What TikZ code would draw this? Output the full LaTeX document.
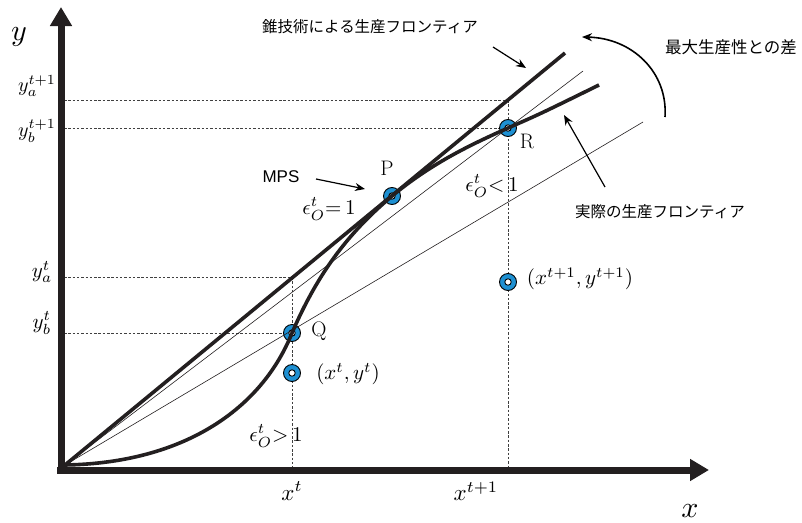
\documentclass[tikz,border=0pt]{standalone}
\usepackage{graphicx}
\usepackage{fontspec}
\newfontfamily\jp{Noto Sans CJK JP}
\newfontfamily\lsans{Liberation Sans}
\usetikzlibrary{arrows.meta}
\definecolor{ringblue}{HTML}{1E90D2}
\definecolor{axisblack}{HTML}{231F20}
\newcommand\mth[2]{\scalebox{#1}{$#2$}}
\tikzset{
  ring/.style={circle, draw=black, line width=0.9pt, fill=ringblue, minimum size=17pt, inner sep=0pt,
    path picture={\draw[fill=white, line width=0.9pt] (path picture bounding box.center) circle (3.2pt);}},
  axisline/.style={draw=axisblack, line width=7pt, -{Triangle[length=19pt,width=21pt]}},
  thickline/.style={line width=3.6pt, draw=axisblack},
  thinline/.style={line width=0.6pt, draw=axisblack},
  guide/.style={line width=0.6pt, draw=black!75, dash pattern=on 2.5pt off 1.8pt},
  lab/.style={inner sep=0pt},
  bigrm/.style={inner sep=0pt, font=\fontsize{21}{23}\selectfont},
  jplab/.style={inner sep=0pt, font=\jp\fontsize{15.5}{17}\selectfont},
  ptr/.style={line width=1.2pt, -{Stealth[length=10pt,width=8pt]}},
}
\begin{document}
\begin{tikzpicture}[x=1pt,y=-1pt]
\useasboundingbox (0,0) rectangle (802,522);
% coordinates
\coordinate (O) at (65,465);
\coordinate (Yb) at (61,473);
\coordinate (Yt) at (61,7);
\coordinate (Xl) at (57,470);
\coordinate (Xr) at (709,470);
\coordinate (Cend) at (565,53);
\coordinate (Rend) at (583,71);
\coordinate (Qend) at (643,122);
\coordinate (Fend) at (599,85);
% guide lines
\coordinate (ya1) at (64,100);
\coordinate (yb1) at (64,128);
\coordinate (ya0) at (64,277);
\coordinate (yb0) at (64,333);
\coordinate (v1t) at (508,100);
\coordinate (v1b) at (508,470);
\coordinate (v0t) at (292,277);
\coordinate (v0b) at (292,470);
\draw[guide] (ya1) -- (v1t);
\draw[guide] (yb1) -- (508,128);
\draw[guide] (ya0) -- (v0t);
\draw[guide] (yb0) -- (292,333);
\draw[guide] (v1t) -- (v1b);
\draw[guide] (v0t) -- (v0b);
% rings
\node[ring] (P) at (392,196) {};
\node[ring] (Q) at (292,333) {};
\node[ring] (R) at (508,128) {};
\node[ring] (A) at (292,373) {};
\node[ring] (B) at (508,282) {};
% lines from origin
\draw[thinline] (O) -- (Qend);
\draw[thinline] (O) -- (Rend);
\draw[thickline] (O) -- (Cend);
\draw[thickline] (O) .. controls (185,463) and (262,408) .. (Q.center)
  .. controls (320,268) and (352,230) .. (P.center)
  .. controls (432,163) and (470,145) .. (R.center)
  .. controls (540,114) .. (Fend);
% axes
\draw[axisline] (Yb) -- (Yt);
\draw[axisline] (Xl) -- (Xr);
% axis labels
\node[lab] (ylab) at (19,37) {\mth{3}{y}};
\node[lab] (xlab) at (690,511) {\mth{3}{x}};
\node[lab] (lya1) at (37,86) {\mth{2}{y_a^{t+1}}};
\node[lab] (lyb1) at (37,131) {\mth{2}{y_b^{t+1}}};
\node[lab] (lya0) at (42,272) {\mth{2.1}{y_a^{t}}};
\node[lab] (lyb0) at (42,323) {\mth{2.1}{y_b^{t}}};
\node[lab] (lx0) at (292,491) {\mth{2.3}{x^{t}}};
\node[lab] (lx1) at (476,491) {\mth{2.3}{x^{t+1}}};
% point labels
\node[bigrm] (lP) at (387,168) {P};
\node[bigrm] (lQ) at (319,331) {Q};
\node[bigrm] (lR) at (527,141) {R};
\node[lab] (lA) at (348,374) {\mth{2.1}{(x^{t},y^{t})}};
\node[lab] (lB) at (580,279) {\mth{2.1}{(x^{t+1},y^{t+1})}};
\node[lab] (e1) at (329,209) {\mth{2.1}{\epsilon_O^t{=}\,1}};
\node[lab] (e2) at (492,186) {\mth{2.1}{\epsilon_O^t{<}\,1}};
\node[lab] (e3) at (276,436) {\mth{2.1}{\epsilon_O^t{>}\,1}};
% MPS
\node[inner sep=0pt, font=\lsans\fontsize{17}{19}\selectfont] (mps) at (281,177) {MPS};
\coordinate (mpsS) at (316,179);
\coordinate (mpsE) at (365,189);
\draw[ptr] (mpsS) -- (mpsE);
% Japanese labels
\node[jplab] (cone) at (370,27) {錐技術による生産フロンティア};
\coordinate (coneS) at (493,47);
\coordinate (coneE) at (526,68);
\draw[ptr] (coneS) -- (coneE);
\node[jplab, font=\jp\fontsize{16.5}{18}\selectfont] (gap) at (731,47) {最大生産性との差};
\coordinate (gapS) at (665,117);
\coordinate (gapE) at (582,37);
\draw[ptr, line width=1.6pt] (gapS) .. controls (668,72) and (632,38) .. (gapE);
\node[jplab] (act) at (660,212) {実際の生産フロンティア};
\coordinate (actS) at (605,187);
\coordinate (actE) at (564,115);
\draw[ptr] (actS) -- (actE);
\end{tikzpicture}
\end{document}
